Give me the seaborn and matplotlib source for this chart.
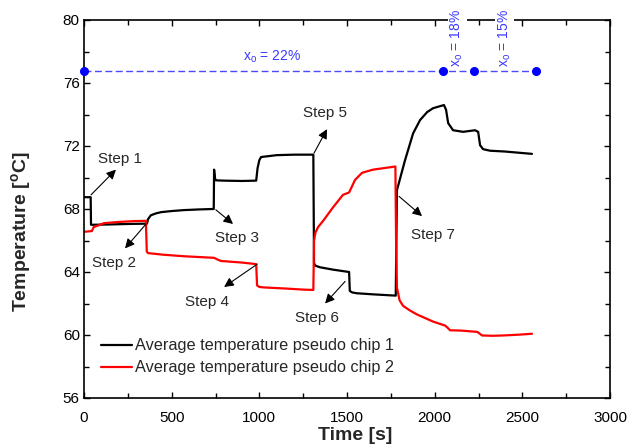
import numpy as np
import pandas as pd
import matplotlib
matplotlib.use("Agg")
import matplotlib.pyplot as plt
from matplotlib.ticker import MultipleLocator
import seaborn as sns

# ---------------- data ----------------
chip1_time = [0, 38, 40, 60, 150, 250, 359, 365, 381, 410, 440, 500, 570, 650, 733, 740,
              742, 747, 752, 800, 900, 982, 990, 1000, 1010, 1100, 1200, 1308,
              1312, 1320, 1346, 1420, 1512, 1516, 1530, 1557, 1650, 1778,
              1785, 1831, 1877, 1917, 1957, 1991, 2053, 2065, 2077, 2105, 2162,
              2230, 2248, 2259, 2276, 2316, 2400, 2504, 2555]
chip1_temp = [68.75, 68.75, 67.0, 67.0, 67.02, 67.05, 67.07, 67.35, 67.6, 67.72, 67.8, 67.87, 67.93, 67.97, 68.0, 68.0,
              70.5, 69.95, 69.82, 69.8, 69.78, 69.8, 70.6, 71.1, 71.3, 71.42, 71.45, 71.45,
              64.55, 64.4, 64.3, 64.15, 64.0, 62.8, 62.7, 62.65, 62.58, 62.5,
              69.2, 71.1, 72.8, 73.65, 74.15, 74.4, 74.6, 74.3, 73.45, 73.0, 72.9,
              73.0, 72.9, 72.05, 71.8, 71.7, 71.65, 71.55, 71.5]

chip2_time = [0, 45, 55, 80, 114, 200, 285, 353, 358, 365, 450, 570, 742, 760, 781, 900, 982,
              987, 1000, 1027, 1150, 1255, 1308, 1312, 1320, 1335, 1364, 1420, 1477, 1512,
              1546, 1586, 1649, 1745, 1776, 1780, 1785, 1800, 1820, 1860, 1900, 1991,
              2059, 2070, 2088, 2150, 2242, 2255, 2270, 2330, 2391, 2480, 2555]
chip2_temp = [66.55, 66.6, 66.85, 66.95, 67.1, 67.18, 67.23, 67.25, 65.3, 65.2, 65.1, 65.0, 64.9, 64.8, 64.7, 64.6, 64.5,
              63.15, 63.05, 63.02, 62.95, 62.88, 62.86, 66.0, 66.5, 66.85, 67.25, 68.1, 68.9, 69.05,
              69.85, 70.3, 70.5, 70.65, 70.7, 66.0, 63.0, 62.2, 61.85, 61.55, 61.3, 60.85,
              60.6, 60.5, 60.3, 60.28, 60.2, 60.1, 59.97, 59.95, 59.97, 60.02, 60.08]

series_names = ["Average temperature pseudo chip 1", "Average temperature pseudo chip 2"]
series_colors = ["#000000", "#ff0000"]

oxygen_times = [0, 2048, 2225, 2578]
oxygen_level = 76.75
oxygen_labels = ["22%", "18%", "15%"]

step_labels = ["Step 1", "Step 2", "Step 3", "Step 4", "Step 5", "Step 6", "Step 7"]
step_text_xy = [(205, 71.2), (171, 64.6), (873, 66.15), (701, 62.1), (1376, 74.1), (1329, 61.1), (1991, 66.35)]
step_arrow_tail = [(40, 68.9), (354, 67.05), (752, 67.95), (988, 64.5), (1312, 71.55), (1489, 63.4), (1797, 68.8)]
step_arrow_head = [(182, 70.5), (234, 65.5), (850, 67.05), (799, 63.05), (1386, 73.07), (1375, 62.0), (1928, 67.55)]

x_ticks = [0, 500, 1000, 1500, 2000, 2500, 3000]
y_ticks = [56, 60, 64, 68, 72, 76, 80]

# ---------------- build frame ----------------
df = pd.concat([
    pd.DataFrame({"Time": chip1_time, "Temp": chip1_temp, "Series": series_names[0]}),
    pd.DataFrame({"Time": chip2_time, "Temp": chip2_temp, "Series": series_names[1]}),
], ignore_index=True)

sns.set_theme(style="ticks")
plt.rcParams["font.family"] = ["Liberation Sans", "DejaVu Sans"]
plt.rcParams["mathtext.fontset"] = "custom"
plt.rcParams["mathtext.rm"] = "Liberation Sans"
plt.rcParams["mathtext.it"] = "Liberation Sans"
plt.rcParams["mathtext.bf"] = "Liberation Sans:bold"

fig = plt.figure(figsize=(6.29, 4.44), dpi=100)
ax = fig.add_axes([84 / 629, 1 - 398 / 444, 526 / 629, 378 / 444])

sns.lineplot(data=df, x="Time", y="Temp", hue="Series", palette=series_colors,
             estimator=None, sort=False, linewidth=1.6, ax=ax)

# oxygen line
blue = "#3a3aff"
ax.plot(oxygen_times, [oxygen_level] * len(oxygen_times), color="#4a4aff", lw=1.0,
        dashes=(5, 2.5), zorder=3)
ax.plot(oxygen_times, [oxygen_level] * len(oxygen_times), ls="none", marker="o",
        ms=5.5, color="#0000ff", zorder=4, clip_on=False)
ax.text(1073, 77.65, r"x$_\mathrm{o}$ = " + oxygen_labels[0], color=blue, fontsize=10,
        ha="center", va="center")
for xpos, lab in [(2128, oxygen_labels[1]), (2400, oxygen_labels[2])]:
    ax.text(xpos, 77.0, r"x$_\mathrm{o}$ = " + lab, color=blue, fontsize=10, rotation=90,
            ha="center", va="bottom", clip_on=False, zorder=5,
            bbox=dict(facecolor="white", edgecolor="none", pad=1.0))

# step annotations
for lab, txy, tail, head in zip(step_labels, step_text_xy, step_arrow_tail, step_arrow_head):
    ax.annotate("", xy=head, xytext=tail,
                arrowprops=dict(arrowstyle="-|>", color="black", lw=0.8,
                                mutation_scale=14, shrinkA=0, shrinkB=0))
    ax.text(txy[0], txy[1], lab, fontsize=11, ha="center", va="center")

ax.set_xlim(0, 3000)
ax.set_ylim(56, 80)
ax.set_xticks(x_ticks)
ax.set_yticks(y_ticks)
ax.xaxis.set_minor_locator(MultipleLocator(250))
ax.yaxis.set_minor_locator(MultipleLocator(2))
ax.tick_params(which="both", direction="in", top=True, right=True, labelsize=11,
               width=1.0, colors="black")
ax.tick_params(which="major", length=4.5)
ax.tick_params(which="minor", length=3.5)
ax.tick_params(axis="x", which="major", pad=9.5)
ax.tick_params(axis="y", which="major", pad=3)
for s in ax.spines.values():
    s.set_linewidth(1.2)
    s.set_color("black")
    s.set_visible(True)

ax.set_xlabel("Time [s]", fontsize=14, fontweight="bold")
ax.set_ylabel(r"Temperature [$^\mathrm{\mathbf{o}}$C]", fontsize=14, fontweight="bold")
ax.xaxis.set_label_coords(0.515, -0.077)
ax.yaxis.set_label_coords(-0.097, 0.439)

leg = ax.legend(loc="lower left", bbox_to_anchor=(0.033, 0.06), frameon=False, fontsize=11.7,
                handlelength=1.9, handletextpad=0.15, labelspacing=0.42,
                borderaxespad=0, borderpad=0)
for line in leg.get_lines():
    line.set_linewidth(1.6)

fig.savefig("out.png", dpi=100)
